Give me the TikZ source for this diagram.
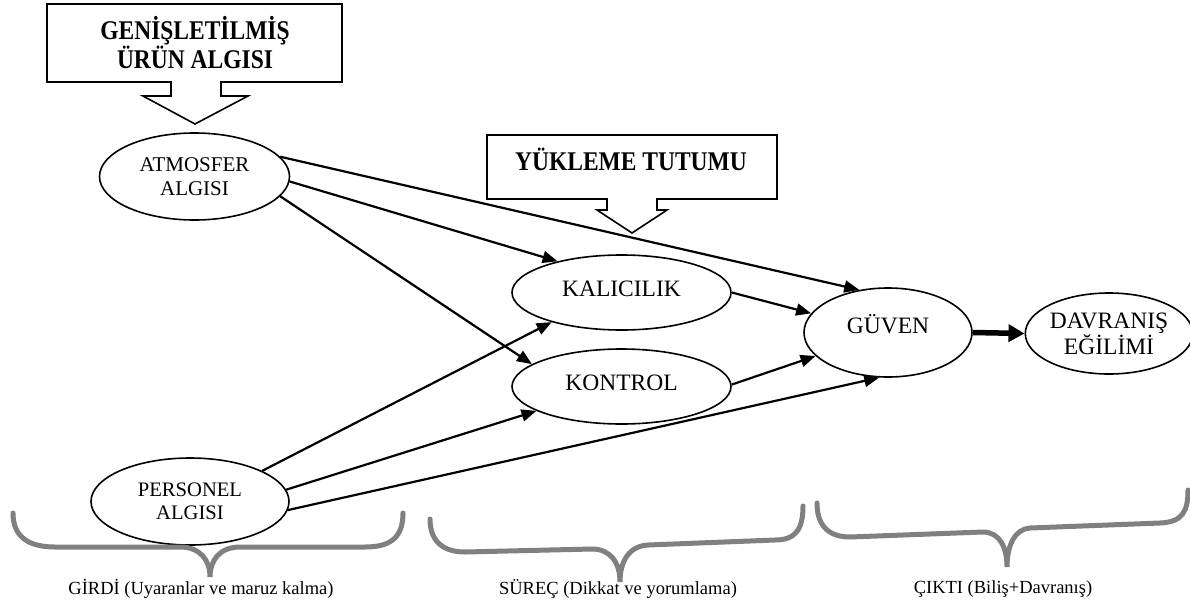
\documentclass[tikz,border=0pt]{standalone}
\usepackage{fontspec}
\setmainfont{Liberation Serif}
\newfontfamily\titlefont[FakeStretch=0.87]{Liberation Serif}
\usetikzlibrary{arrows.meta,shapes.geometric}
\definecolor{bracegray}{HTML}{808080}
\tikzset{
  oval/.style={draw, line width=1.6pt, ellipse, inner sep=0pt, align=center},
  twoline/.style={font=\fontsize{21}{24}\selectfont},
  oneline/.style={font=\fontsize{23.5}{26}\selectfont, text height=15.5pt, text depth=8pt},
  callout/.style={draw, line width=1.6pt, line join=miter},
  titletext/.style={font=\fontsize{27}{25}\titlefont\bfseries, align=center, inner sep=0pt},
  link/.style={line width=2.2pt, -{Triangle[length=15pt,width=12pt]}},
  biglink/.style={line width=5.5pt, -{Triangle[length=16pt,width=17pt]}},
  bracepath/.style={draw=bracegray, line width=5pt, line cap=round},
  bracelabel/.style={font=\fontsize{18.5}{22}\selectfont, inner sep=0pt}
}
\begin{document}
\begin{tikzpicture}[x=1pt,y=-1pt]
\useasboundingbox (0,0) rectangle (1190,602);

% callouts
\draw[callout] (47,4) -- (342,4) -- (342,82) -- (221,82) -- (221,96) -- (248,96) -- (195,124) -- (143,96) -- (171,96) -- (171,82) -- (47,82) -- cycle;
\node[titletext] (gen) at (195,43) {GENİŞLETİLMİŞ\\ÜRÜN ALGISI};
\draw[callout] (487,135) -- (777,135) -- (777,199) -- (657,199) -- (657,210) -- (667,210) -- (632,233) -- (597,210) -- (607,210) -- (607,199) -- (487,199) -- cycle;
\node[titletext, text height=17.8pt, text depth=0pt] (yuk) at (631,162) {YÜKLEME TUTUMU};

% ellipses
\node[oval, twoline, minimum width=190pt, minimum height=87pt] (atm) at (194.5,176.5) {ATMOSFER\\ALGISI};
\node[oval, twoline, font=\fontsize{20.6}{23}\selectfont, minimum width=198pt, minimum height=87pt] (per) at (190,501.5) {PERSONEL\\ALGISI};
\node[oval, oneline, minimum width=219pt, minimum height=75pt] (kal) at (621.5,292.5) {KALICILIK};
\node[oval, oneline, minimum width=219pt, minimum height=75pt] (kon) at (621.5,386.5) {KONTROL};
\node[oval, oneline, text depth=14pt, minimum width=168pt, minimum height=89pt] (guv) at (888,332.5) {GÜVEN};
\node[oval, font=\fontsize{23.5}{26}\selectfont, minimum width=160pt, minimum height=81pt] (dav) at (1109,333.5) {DAVRANIŞ\\EĞİLİMİ};

% connectors
\draw[link] (atm.13) -- (guv.124);
\draw[link] (atm.-3.4) -- (kal.154.7);
\draw[link] (atm.-13.5) -- (kon.166);
\draw[link] (per.23.6) -- (kal.203.8);
\draw[link] (per.7.8) -- (kon.196.3);
\draw[link] (per.-5) -- (guv.259.7);
\draw[link] (kal.0.8) -- (guv.166.5);
\draw[link] (kon.1.8) -- (guv.198);
\draw[biglink] (guv.east) -- (dav.west);

% braces
\draw[bracepath] (13,513) .. controls (13,538) and (30,547) .. (55,547) -- (180,547) .. controls (200,547) and (210,560) .. (210,577) .. controls (210,560) and (220,547) .. (240,547) -- (365,547) .. controls (390,547) and (403,538) .. (403,513);
\draw[bracepath] (430,519) .. controls (430,543) and (445,552) .. (465,552) -- (592,549) .. controls (610,549) and (620,562) .. (620,582) .. controls (620,560) and (630,546) .. (648,545) -- (775,540) .. controls (795,540) and (803,530) .. (803,506);
\draw[bracepath] (817,503) .. controls (817,527) and (830,537) .. (850,537) -- (983,532) .. controls (1000,532) and (1007,548) .. (1007,567) .. controls (1007,545) and (1015,529) .. (1030,528) -- (1160,523) .. controls (1182,522) and (1188,512) .. (1188,490);

% labels
\node[bracelabel] (girdi) at (201,589) {GİRDİ (Uyaranlar ve maruz kalma)};
\node[bracelabel] (surec) at (618,589) {SÜREÇ (Dikkat ve yorumlama)};
\node[bracelabel] (cikti) at (1003,589) {ÇIKTI (Biliş+Davranış)};
\end{tikzpicture}
\end{document}
